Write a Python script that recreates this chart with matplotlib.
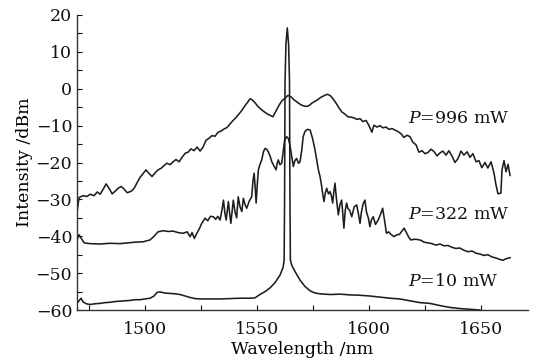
import matplotlib
matplotlib.use("Agg")
import matplotlib.pyplot as plt
from matplotlib.ticker import MultipleLocator

plt.rcParams['font.family'] = ['DejaVu Serif']
plt.rcParams['mathtext.fontset'] = 'dejavuserif'

# P = 996 mW
wl_996 = [1469.6, 1470.5, 1472.3, 1474.1, 1475.4, 1477.2, 1478.6, 1479.9, 1481.3, 1482.6,
          1483.9, 1485.3, 1486.6, 1487.9, 1489.3, 1490.6, 1492.0, 1493.8, 1495.1, 1496.4,
          1497.8, 1499.1, 1500.4, 1501.8, 1503.1, 1504.5, 1505.8, 1507.1, 1508.5, 1509.8,
          1511.2, 1512.5, 1513.8, 1515.2, 1516.5, 1517.9, 1519.2, 1520.5, 1521.9, 1523.2,
          1524.6, 1525.9, 1527.2, 1528.6, 1529.9, 1531.2, 1532.6, 1533.9, 1535.3, 1536.6,
          1537.9, 1539.3, 1540.6, 1542.0, 1543.3, 1544.6, 1546.0, 1546.9, 1547.8, 1549.1,
          1550.4, 1551.8, 1553.1, 1554.5, 1555.8, 1557.1, 1558.5, 1559.8, 1561.2, 1562.5,
          1563.8, 1565.2, 1566.5, 1567.9, 1569.2, 1570.5, 1571.9, 1573.2, 1574.5, 1575.9,
          1577.2, 1578.6, 1579.9, 1581.2, 1582.6, 1583.9, 1585.3, 1586.6, 1587.9, 1589.3,
          1590.6, 1592.0, 1593.3, 1594.6, 1596.0, 1597.3, 1598.7, 1600.0, 1601.3, 1602.2,
          1603.6, 1604.9, 1606.2, 1607.6, 1608.9, 1610.3, 1611.6, 1612.9, 1614.3, 1615.6,
          1617.0, 1618.3, 1619.6, 1621.0, 1622.3, 1623.7, 1625.0, 1626.3, 1627.7, 1629.0,
          1630.4, 1631.7, 1633.0, 1634.4, 1635.7, 1637.1, 1638.4, 1639.7, 1641.1, 1642.4,
          1643.8, 1645.1, 1646.4, 1647.8, 1649.1, 1650.4, 1651.8, 1653.1, 1654.5, 1655.8,
          1656.7, 1657.6, 1658.9, 1659.4, 1660.3, 1661.2, 1662.1, 1663.0]
db_996 = [-33.5, -29.5, -29.0, -29.2, -28.6, -29.0, -28.0, -28.6, -27.2, -25.8,
          -27.0, -28.5, -27.8, -27.0, -26.5, -27.2, -28.2, -27.8, -27.0, -25.5,
          -24.0, -23.0, -22.0, -23.0, -23.8, -22.8, -22.0, -21.6, -20.8, -20.2,
          -20.6, -19.8, -19.2, -19.8, -18.6, -17.5, -17.2, -16.3, -16.8, -15.8,
          -16.9, -15.8, -14.0, -13.4, -12.7, -12.9, -11.8, -11.5, -10.9, -10.5,
          -9.6, -8.6, -7.8, -6.8, -5.8, -4.6, -3.5, -2.7, -3.0, -3.8,
          -4.8, -5.6, -6.2, -6.8, -7.2, -7.6, -6.0, -4.5, -3.2, -2.6,
          -1.8, -2.2, -3.0, -3.6, -4.2, -4.6, -4.8, -4.6, -3.9, -3.4,
          -2.9, -2.3, -1.9, -1.5, -1.8, -2.7, -3.9, -5.2, -6.3, -6.9,
          -7.6, -7.7, -7.9, -8.3, -8.1, -8.9, -8.6, -10.0, -11.8, -9.9,
          -10.4, -10.0, -10.6, -10.4, -11.0, -10.8, -11.2, -11.6, -12.2, -13.2,
          -12.6, -13.0, -14.5, -15.2, -17.2, -16.8, -17.6, -17.3, -16.4, -17.0,
          -18.2, -17.4, -16.9, -18.0, -16.8, -18.3, -20.0, -19.0, -16.9, -18.0,
          -17.1, -18.6, -17.6, -19.8, -19.5, -21.4, -20.0, -21.5, -19.8, -22.8,
          -26.0, -28.5, -28.3, -22.0, -19.5, -22.5, -20.5, -23.5]

# P = 322 mW
wl_322 = [1469.6, 1470.5, 1471.4, 1472.8, 1475.4, 1479.9, 1484.4, 1488.8, 1492.0, 1495.5,
          1499.1, 1502.2, 1504.0, 1505.8, 1508.0, 1510.3, 1512.5, 1514.7, 1516.9, 1518.8,
          1520.1, 1521.0, 1522.0, 1523.1, 1524.2, 1525.3, 1526.8, 1528.0, 1529.2, 1530.5,
          1531.5, 1532.5, 1533.5, 1534.3, 1535.0, 1535.6, 1536.2, 1536.7, 1537.2, 1537.8,
          1538.3, 1538.9, 1539.4, 1540.2, 1540.9, 1541.6, 1542.4, 1543.2, 1543.9, 1544.7,
          1545.4, 1546.5, 1547.6, 1548.2, 1548.7, 1549.2, 1549.6, 1550.1, 1550.6, 1551.3,
          1552.1, 1552.9, 1553.6, 1554.3, 1555.0, 1555.8, 1556.6, 1557.6, 1558.5, 1559.0,
          1559.5, 1560.2, 1561.0, 1561.7, 1562.3, 1563.2, 1564.0, 1564.7, 1565.4, 1566.2,
          1566.9, 1567.7, 1568.5, 1569.2, 1570.0, 1570.6, 1571.4, 1572.5, 1573.7, 1574.8,
          1575.9, 1576.7, 1577.4, 1578.2, 1578.9, 1579.4, 1579.9, 1580.5, 1581.1, 1581.9,
          1582.6, 1583.2, 1583.8, 1584.3, 1584.8, 1585.5, 1586.3, 1587.0, 1587.8, 1588.3,
          1588.8, 1589.4, 1590.0, 1590.6, 1591.4, 1592.3, 1593.4, 1594.5, 1595.3, 1596.0,
          1596.6, 1597.4, 1598.2, 1598.9, 1599.7, 1600.4, 1601.1, 1601.9, 1602.9, 1604.1,
          1605.2, 1606.1, 1606.9, 1607.8, 1608.8, 1609.8, 1611.2, 1612.4, 1613.6, 1614.8,
          1615.7, 1616.7, 1617.7, 1618.7, 1620.5, 1621.9, 1623.2, 1624.6, 1626.3, 1628.1,
          1629.9, 1631.7, 1633.5, 1635.3, 1637.1, 1638.8, 1640.6, 1642.4, 1644.2, 1646.0,
          1647.8, 1649.5, 1651.3, 1653.1, 1654.9, 1656.7, 1658.5, 1659.8, 1661.2, 1663.0]
db_322 = [-41.0, -39.6, -40.5, -41.8, -42.0, -42.1, -41.9, -42.0, -41.8, -41.6,
          -41.5, -41.0, -40.0, -38.8, -38.5, -38.7, -38.6, -39.0, -39.2, -38.8,
          -40.1, -39.0, -40.6, -39.2, -38.0, -36.5, -35.1, -35.8, -34.6, -34.7,
          -35.4, -34.6, -35.6, -33.0, -30.2, -33.5, -35.6, -33.0, -30.6, -34.0,
          -36.5, -33.0, -30.2, -33.5, -35.0, -29.3, -32.0, -33.3, -29.7, -31.5,
          -32.4, -30.5, -29.3, -25.0, -22.9, -27.0, -31.0, -26.0, -22.0, -20.5,
          -19.3, -17.0, -16.2, -16.4, -17.1, -18.2, -19.8, -21.0, -22.0, -20.2,
          -19.3, -20.6, -20.2, -17.0, -14.0, -13.0, -13.5, -15.3, -18.0, -21.1,
          -19.5, -18.9, -20.2, -19.8, -16.5, -13.0, -11.6, -11.0, -11.2, -13.5,
          -16.6, -19.5, -22.0, -24.0, -26.6, -28.8, -30.6, -28.2, -27.0, -28.5,
          -27.9, -29.0, -31.0, -28.0, -25.6, -30.0, -34.2, -31.5, -30.2, -34.0,
          -37.8, -33.0, -31.0, -32.5, -33.0, -34.7, -32.0, -31.5, -34.0, -36.5,
          -33.5, -31.2, -30.2, -33.5, -35.0, -37.4, -35.5, -34.7, -36.8, -35.6,
          -34.0, -32.4, -35.5, -39.2, -38.8, -39.5, -40.1, -39.6, -39.5, -38.5,
          -37.8, -39.0, -40.2, -41.0, -40.8, -40.9, -41.1, -41.6, -41.8, -42.0,
          -42.4, -42.1, -42.6, -42.5, -43.0, -43.3, -43.2, -43.8, -44.2, -44.0,
          -44.6, -44.8, -45.2, -45.0, -45.6, -45.9, -46.3, -46.5, -46.1, -45.8]

# P = 10 mW
wl_10 = [1469.6, 1470.5, 1471.4, 1472.3, 1473.7, 1475.4, 1477.7, 1479.9, 1482.1, 1484.4,
         1486.6, 1488.8, 1491.1, 1493.3, 1495.5, 1497.8, 1500.0, 1502.2, 1504.0, 1505.4,
         1506.7, 1508.9, 1511.2, 1513.4, 1515.6, 1517.9, 1520.1, 1522.3, 1524.6, 1529.0,
         1533.5, 1537.9, 1542.4, 1546.9, 1549.1, 1551.3, 1553.6, 1555.8, 1558.0, 1560.3,
         1561.6, 1562.1, 1562.3, 1562.5, 1562.9, 1563.5, 1564.1, 1564.5, 1564.7, 1564.9,
         1565.6, 1566.9, 1569.2, 1571.4, 1573.7, 1575.9, 1578.1, 1582.6, 1587.1, 1591.5,
         1596.0, 1600.4, 1604.9, 1609.4, 1613.8, 1618.3, 1622.8, 1627.2, 1631.7, 1636.2,
         1640.6, 1645.1, 1649.5]
db_10 = [-58.2, -57.5, -56.8, -57.8, -58.3, -58.5, -58.3, -58.2, -58.0, -57.9,
         -57.7, -57.6, -57.5, -57.4, -57.2, -57.2, -57.0, -56.8, -56.2, -55.2,
         -55.1, -55.4, -55.5, -55.6, -55.8, -56.2, -56.6, -56.9, -57.0, -57.0,
         -57.0, -56.9, -56.8, -56.8, -56.7, -55.8, -55.0, -54.0, -52.6, -50.5,
         -48.5, -46.5, -30.0, 2.0, 12.0, 16.5, 12.0, 2.0, -30.0, -46.5,
         -48.0, -49.5, -51.9, -53.6, -54.8, -55.4, -55.6, -55.8, -55.7, -55.9,
         -56.0, -56.2, -56.5, -56.8, -57.0, -57.5, -58.0, -58.2, -58.8, -59.3,
         -59.6, -59.8, -60.0]

labels = ["=996 mW", "=322 mW", "=10 mW"]
label_y = [-8.0, -34.2, -52.4]

xticks = [1500, 1550, 1600, 1650]
yticks = [-60, -50, -40, -30, -20, -10, 0, 10, 20]

fig = plt.figure(figsize=(5.36, 3.62), dpi=100)
ax = fig.add_axes([0.1437, 0.1436, 0.8413, 0.815])

lc = '#1e1e1e'
for wl, db in [(wl_996, db_996), (wl_322, db_322), (wl_10, db_10)]:
    ax.plot(wl, db, color=lc, lw=1.15)

for lab, yy in zip(labels, label_y):
    ax.text(1617.4, yy, r"$P$" + lab, fontsize=12.5, va='center', ha='left', color='#111111')

ax.set_xlim(1469.6, 1671)
ax.set_ylim(-60, 20)
ax.set_xticks(xticks)
ax.set_yticks(yticks)
ax.xaxis.set_minor_locator(MultipleLocator(25))
ax.yaxis.set_minor_locator(MultipleLocator(5))
ax.tick_params(which='both', direction='in', length=3.5, width=0.8, labelsize=12.5, colors='#111111')
ax.tick_params(axis='x', pad=8)
ax.spines['top'].set_visible(False)
ax.spines['right'].set_visible(False)
for s in ['left', 'bottom']:
    ax.spines[s].set_linewidth(1.0)
    ax.spines[s].set_color('#333333')
ax.set_xlabel("Wavelength /nm", fontsize=12.5, labelpad=2)
ax.set_ylabel("Intensity /dBm", fontsize=12.5, labelpad=2)

fig.savefig("out.png", dpi=100)
